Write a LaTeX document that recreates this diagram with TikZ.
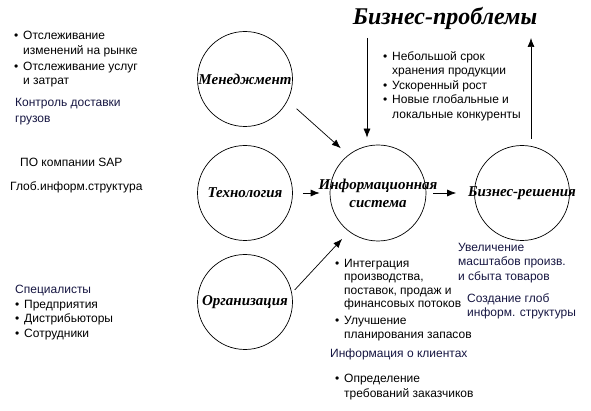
\documentclass[tikz,border=0pt]{standalone}
\usepackage{fontspec}
\setmainfont{Liberation Sans}
\newfontfamily\headfont{Liberation Serif}
\usetikzlibrary{arrows.meta,positioning}
\definecolor{inkblue}{RGB}{22,22,66}
\newcommand{\bul}{\makebox[9pt][l]{\textbullet}}
\newcommand{\bulsp}{\hspace*{9pt}}

\begin{document}
\begin{tikzpicture}[x=1pt, y=-1pt,
  circ/.style={circle, draw, line width=0.7pt, minimum size=95pt, inner sep=0pt},
  lbl/.style={font=\headfont\bfseries\itshape\fontsize{15}{18}\selectfont, align=center},
  note/.style={anchor=north west, inner sep=0pt, align=left,
               font=\fontsize{12}{14.5}\selectfont},
  blnote/.style={note, text=inkblue},
  arr/.style={-{Latex[length=9pt,width=7pt]}, line width=0.7pt},
]
  \useasboundingbox (0,0) rectangle (591,411);

  % circles
  \node[circ, label={[lbl]center:Менеджмент}] (mgmt) at (245,79) {};
  \node[circ, label={[lbl]center:Технология}] (tech) at (245,193) {};
  \node[circ, label={[lbl]center:Организация}] (org) at (245,302) {};
  \node[circ, minimum size=96pt,
        label={[lbl]center:Информационная\\система}] (infsys) at (378,193) {};
  \node[circ, label={[lbl]center:Бизнес-решения}] (bizsol) at (522,193) {};

  \node[font=\headfont\bfseries\itshape\fontsize{24}{27}\selectfont]
    (probs) at (445,18) {Бизнес-проблемы};
  \coordinate (dntop) at (367,38);
  \coordinate (uptop) at (531,38);

  % arrows
  \draw[arr, shorten <=12pt, shorten >=10pt] (mgmt.-27) -- (infsys.128);
  \draw[arr, shorten <=10pt, shorten >=10pt] (tech) -- (infsys);
  \draw[arr, shorten <=4pt, shorten >=10pt] (org.11) -- (infsys.233);
  \draw[arr, shorten <=7pt, shorten >=18pt] (infsys) -- (bizsol);
  \draw[arr, shorten >=7pt] (dntop) -- (dntop |- infsys.north);
  \draw[arr, shorten <=6pt] (uptop |- bizsol.north) -- (uptop);

  % notes on the left
  \node[note] (mktnote) at (14,31)
    {\bul Отслеживание\\ \bulsp изменений на рынке\\[1.5pt]
     \bul Отслеживание услуг\\ \bulsp и затрат};
  \node[blnote] (shipnote) at (15,98) {Контроль доставки\\[1.5pt]грузов};
  \node[note] (sapnote) at (20,158) {ПО компании SAP};
  \node[note] (infranote) at (10,182) {Глоб.информ.структура};
  \node[blnote] (staffnote) at (15,285)
    {Специалисты\\ \textcolor{black}{\bul Предприятия}\\
     \textcolor{black}{\bul Дистрибьюторы}\\ \textcolor{black}{\bul Сотрудники}};

  % notes on the right
  \node[note] (probnote) at (383,51)
    {\bul Небольшой срок\\ \bulsp хранения продукции\\ \bul Ускоренный рост\\
     \bul Новые глобальные и\\ \bulsp локальные конкуренты};
  \node[note, font=\fontsize{12}{13.5}\selectfont] (isnote) at (335,259)
    {\bul Интеграция\\ \bulsp производства,\\ \bulsp поставок, продаж и\\
     \bulsp финансовых потоков\\[3.5pt] \bul Улучшение\\ \bulsp планирования запасов};
  \node[blnote] (clientnote) at (330,349) {Информация о клиентах};
  \node[note] (needsnote) at (335,374)
    {\bul Определение\\ \bulsp требований заказчиков};
  \node[blnote] (scalenote) at (458,243)
    {Увеличение\\ масштабов произв.\\ и сбыта товаров};
  \node[blnote] (globnote) at (467,293) {Создание глоб\\ информ. структуры};
\end{tikzpicture}
\end{document}
